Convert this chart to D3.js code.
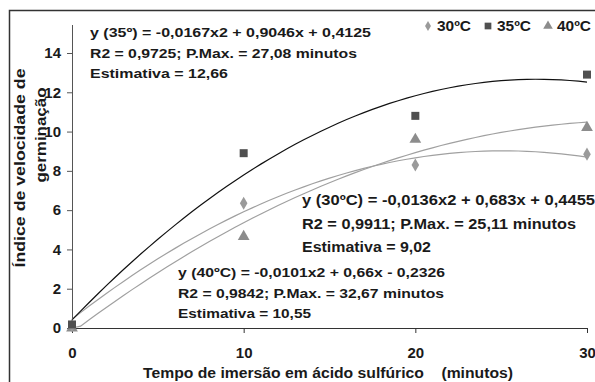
<!DOCTYPE html>
<html><head><meta charset="utf-8">
<script src="https://cdn.jsdelivr.net/npm/d3@7"></script>
<style>body{margin:0;background:#fff}svg{display:block}text{font-family:"Liberation Sans",Arial,sans-serif;font-weight:bold;fill:#1a1a1a}</style>
</head><body>
<script>
const times = [0, 10, 20, 30];
const ivg30 = [0.12, 6.35, 8.3, 8.85];
const ivg35 = [0.18, 8.9, 10.8, 12.9];
const ivg40 = [0.0, 4.65, 9.6, 10.2];
const coef30 = [-0.0136, 0.683, 0.4455];
const coef35 = [-0.0167, 0.9046, 0.4125];
const coef40 = [-0.0101, 0.66, -0.2326];
const xTicks = [0, 10, 20, 30];
const yTicks = [0, 2, 4, 6, 8, 10, 12, 14];
const legendLabels = ["30ºC", "35ºC", "40ºC"];
const eq35 = ["y (35º) = -0,0167x2 + 0,9046x + 0,4125", "R2 = 0,9725; P.Max. = 27,08 minutos", "Estimativa = 12,66"];
const eq30 = ["y (30ºC) = -0,0136x2 + 0,683x + 0,4455", "R2 = 0,9911; P.Max. = 25,11 minutos", "Estimativa = 9,02"];
const eq40 = ["y (40ºC) = -0,0101x2 + 0,66x - 0,2326", "R2 = 0,9842; P.Max. = 32,67 minutos", "Estimativa = 10,55"];

const W = 595, H = 382;
const svg = d3.select("body").append("svg").attr("width", W).attr("height", H);

// outer border
svg.append("path").attr("d", "M9.5,400 V10.5 H600").attr("fill", "none").attr("stroke", "#333").attr("stroke-width", 1.5);

const x = d3.scaleLinear().domain([0, 30]).range([72, 587]);
const y = d3.scaleLinear().domain([0, 14]).range([328, 53]);

// y axis
const yAx = svg.append("g").attr("transform", "translate(72,0)")
  .call(d3.axisLeft(y).tickValues(yTicks).tickSize(5).tickPadding(6).tickFormat(d3.format("d")));
yAx.select(".domain").remove();
yAx.selectAll("line").attr("stroke", "#555");
yAx.selectAll("text").style("font-size", "15px").attr("fill", "#1a1a1a").style("font-family", "Liberation Sans").style("font-weight", "bold");
svg.append("line").attr("x1", 72.5).attr("x2", 72.5).attr("y1", 25).attr("y2", 328).attr("stroke", "#555").attr("stroke-width", 1);

// x axis
const xAx = svg.append("g").attr("transform", "translate(0,328)")
  .call(d3.axisBottom(x).tickValues(xTicks).tickSize(5).tickPadding(14).tickSizeOuter(0));
xAx.select(".domain").attr("stroke", "#333");
xAx.selectAll("line").attr("stroke", "#333");
xAx.selectAll("text").style("font-size", "15px").attr("fill", "#1a1a1a").style("font-family", "Liberation Sans").style("font-weight", "bold");

// trendlines
const xs = d3.range(0, 30.01, 0.5);
function curve(c) { return xs.map(t => [t, Math.max(0, c[0]*t*t + c[1]*t + c[2])]); }
const line = d3.line().x(d => x(d[0])).y(d => y(d[1]));
svg.append("path").attr("d", line(curve(coef30))).attr("fill", "none").attr("stroke", "#a0a0a0").attr("stroke-width", 1.2);
svg.append("path").attr("d", line(curve(coef40))).attr("fill", "none").attr("stroke", "#a0a0a0").attr("stroke-width", 1.2);
svg.append("path").attr("d", line(curve(coef35))).attr("fill", "none").attr("stroke", "#111").attr("stroke-width", 1.2);

// markers
const sym = (type, size) => d3.symbol().type(type).size(size)();
function markers(vals, type, size, color) {
  svg.append("g").selectAll("path").data(vals).join("path")
    .attr("transform", (d, i) => `translate(${x(times[i])},${y(d)})`)
    .attr("d", sym(type, size)).attr("fill", color);
}
markers(ivg40, d3.symbolTriangle, 60, "#8c8c8c");
markers(ivg30, d3.symbolDiamond, 50, "#9a9a9a");
markers(ivg35, d3.symbolSquare, 64, "#505050");

// legend
const leg = [[428, d3.symbolDiamond, 30, "#9a9a9a"], [488, d3.symbolSquare, 45, "#505050"], [548, d3.symbolTriangle, 40, "#8c8c8c"]];
leg.forEach((l, i) => {
  svg.append("path").attr("transform", `translate(${l[0]},26)`).attr("d", sym(l[1], l[2])).attr("fill", l[3]);
  svg.append("text").attr("x", l[0] + 9).attr("y", 31).style("font-size", "14px").attr("textLength", 34).attr("lengthAdjust", "spacingAndGlyphs").text(legendLabels[i]);
});

// annotations
function block(lines, widths, x0, y0, dy, fs) {
  lines.forEach((t, i) => svg.append("text").attr("x", x0).attr("y", y0 + i*dy).style("font-size", fs + "px")
    .attr("textLength", widths[i]).attr("lengthAdjust", "spacingAndGlyphs").text(t));
}
block(eq35, [281, 267, 138], 90, 37, 20.5, 13.5);
block(eq30, [293, 274, 129], 302, 205, 23.5, 14);
block(eq40, [267, 266, 133], 178, 277, 20.5, 13.5);

// axis titles
svg.append("text").attr("transform", "translate(25,168) rotate(-90)").attr("text-anchor", "middle").style("font-size", "14.5px")
  .attr("textLength", 199).attr("lengthAdjust", "spacingAndGlyphs").text("Índice de velocidade de");
svg.append("text").attr("transform", "translate(46,135) rotate(-90)").attr("text-anchor", "middle").style("font-size", "14.5px")
  .attr("textLength", 95).attr("lengthAdjust", "spacingAndGlyphs").text("germinação");
svg.append("text").attr("x", 328).attr("y", 378).attr("text-anchor", "middle").style("font-size", "14.5px").attr("xml:space", "preserve")
  .attr("textLength", 370).attr("lengthAdjust", "spacingAndGlyphs").text("Tempo de imersão em ácido sulfúrico    (minutos)");
</script>
</body></html>
